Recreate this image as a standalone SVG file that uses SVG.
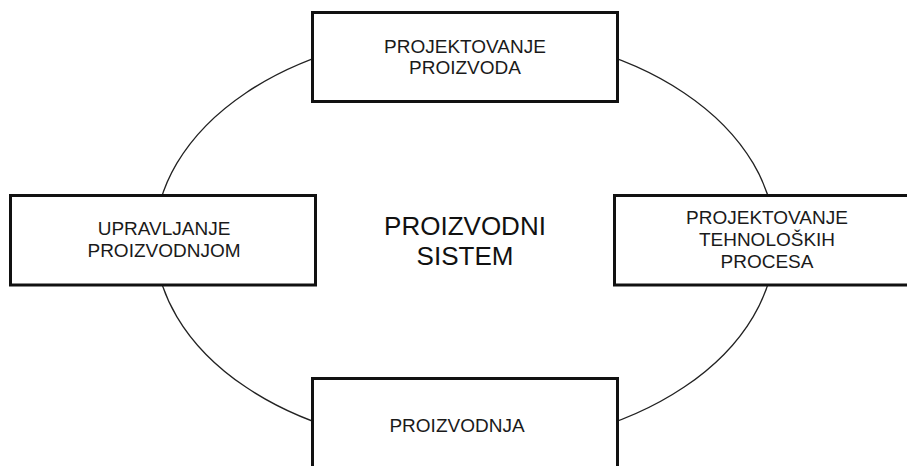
<svg xmlns="http://www.w3.org/2000/svg" width="907" height="466" viewBox="0 0 907 466">
  <style>
    .box { fill: #fff; stroke: #111; stroke-width: 3; }
    .lbl { font-family: "Liberation Sans", Arial, sans-serif; font-size: 19px; fill: #1a1a1a; text-anchor: middle; }
    .title { font-family: "Liberation Sans", Arial, sans-serif; font-size: 26px; fill: #111; text-anchor: middle; }
    .ring { fill: none; stroke: #222; stroke-width: 1.3; }
  </style>
  <rect width="907" height="466" fill="#fff"/>

  <!-- closed loop linking the four activities -->
  <g id="connectors">
    <ellipse class="ring" cx="465" cy="240" rx="310" ry="208"/>
  </g>

  <g id="center-label">
    <text class="title" x="465" y="235">PROIZVODNI</text>
    <text class="title" x="465" y="265">SISTEM</text>
  </g>

  <g id="projektovanje-proizvoda">
    <rect class="box" x="312.5" y="12.5" width="305" height="89"/>
    <text class="lbl" x="465" y="53">PROJEKTOVANJE</text>
    <text class="lbl" x="465" y="74">PROIZVODA</text>
  </g>

  <g id="upravljanje-proizvodnjom">
    <rect class="box" x="10.5" y="195.5" width="305" height="89.5"/>
    <text class="lbl" x="164" y="235">UPRAVLJANJE</text>
    <text class="lbl" x="164" y="257">PROIZVODNJOM</text>
  </g>

  <g id="projektovanje-tehnoloskih-procesa">
    <rect class="box" x="614.5" y="195.5" width="305" height="89.5"/>
    <text class="lbl" x="767" y="224">PROJEKTOVANJE</text>
    <text class="lbl" x="767" y="246">TEHNOLOŠKIH</text>
    <text class="lbl" x="767" y="268">PROCESA</text>
  </g>

  <g id="proizvodnja">
    <rect class="box" x="312.5" y="378.5" width="305" height="100"/>
    <text class="lbl" x="457" y="432">PROIZVODNJA</text>
  </g>
</svg>
